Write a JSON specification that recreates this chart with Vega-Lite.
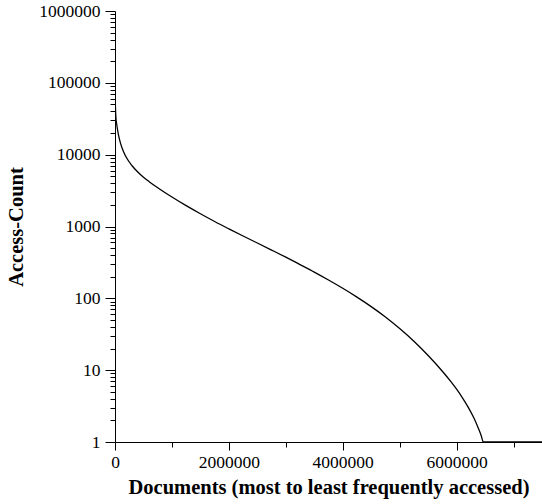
{
  "$schema": "https://vega.github.io/schema/vega-lite/v6.json",
  "autosize": "none",
  "padding": {"left": 115, "top": 11, "right": 0, "bottom": 62},
  "width": 427,
  "height": 431,
  "background": "white",
  "config": {
    "view": {"stroke": null},
    "font": "Liberation Serif",
    "axis": {
      "domainColor": "black",
      "tickColor": "black",
      "labelColor": "black",
      "titleColor": "black",
      "labelFont": "Liberation Serif",
      "titleFont": "Liberation Serif",
      "labelFontSize": 17.5,
      "titleFontSize": 20.5,
      "titleFontWeight": "bold",
      "grid": false,
      "labelOverlap": false,
      "labelFlush": false,
      "labelBound": false
    }
  },
  "data": {
    "values": [
      {"doc": 0, "count": 70000},
      {"doc": 15000, "count": 33700},
      {"doc": 30000, "count": 26500},
      {"doc": 60000, "count": 19000},
      {"doc": 100000, "count": 14160},
      {"doc": 150000, "count": 10990},
      {"doc": 200000, "count": 9140},
      {"doc": 300000, "count": 7015},
      {"doc": 400000, "count": 5730},
      {"doc": 500000, "count": 4850},
      {"doc": 600000, "count": 4207},
      {"doc": 750000, "count": 3467},
      {"doc": 1000000, "count": 2570},
      {"doc": 1250000, "count": 1950},
      {"doc": 1500000, "count": 1505},
      {"doc": 1750000, "count": 1175},
      {"doc": 2000000, "count": 928},
      {"doc": 2250000, "count": 737},
      {"doc": 2500000, "count": 589},
      {"doc": 2750000, "count": 470},
      {"doc": 3000000, "count": 374},
      {"doc": 3250000, "count": 295},
      {"doc": 3500000, "count": 232},
      {"doc": 3750000, "count": 180},
      {"doc": 4000000, "count": 138},
      {"doc": 4250000, "count": 104},
      {"doc": 4500000, "count": 76.7},
      {"doc": 4750000, "count": 55},
      {"doc": 5000000, "count": 38},
      {"doc": 5250000, "count": 25.3},
      {"doc": 5500000, "count": 16},
      {"doc": 5750000, "count": 9.66},
      {"doc": 5900000, "count": 6.91},
      {"doc": 6000000, "count": 5.43},
      {"doc": 6100000, "count": 4.16},
      {"doc": 6200000, "count": 3.09},
      {"doc": 6300000, "count": 2.19},
      {"doc": 6380000, "count": 1.57},
      {"doc": 6430000, "count": 1.245},
      {"doc": 6470000, "count": 1},
      {"doc": 7500000, "count": 1}
    ]
  },
  "mark": {"type": "line", "color": "black", "strokeWidth": 1.3, "interpolate": "monotone", "clip": true},
  "encoding": {
    "x": {
      "field": "doc",
      "type": "quantitative",
      "scale": {"domain": [0, 7500000], "nice": false, "zero": false},
      "axis": {
        "title": "Documents (most to least frequently accessed)",
        "values": [0, 1000000, 2000000, 3000000, 4000000, 5000000, 6000000, 7000000],
        "format": "d",
        "labelExpr": "datum.value % 2000000 == 0 ? datum.label : ''",
        "tickSize": {"condition": {"test": "datum.value % 2000000 == 0", "value": 8}, "value": 5},
        "labelPadding": 3,
        "titlePadding": 7
      }
    },
    "y": {
      "field": "count",
      "type": "quantitative",
      "scale": {"type": "log", "domain": [1, 1000000], "nice": false},
      "axis": {
        "title": "Access-Count",
        "values": [1,2,3,4,5,6,7,8,9,10,20,30,40,50,60,70,80,90,100,200,300,400,500,600,700,800,900,1000,2000,3000,4000,5000,6000,7000,8000,9000,10000,20000,30000,40000,50000,60000,70000,80000,90000,100000,200000,300000,400000,500000,600000,700000,800000,900000,1000000],
        "format": "d",
        "labelExpr": "indexof(['1','10','100','1000','10000','100000','1000000'], datum.label) >= 0 ? datum.label : ''",
        "tickSize": {"condition": {"test": "indexof([1,10,100,1000,10000,100000,1000000], datum.value) >= 0", "value": 10}, "value": 5},
        "labelPadding": 5,
        "titlePadding": 12
      }
    }
  }
}
